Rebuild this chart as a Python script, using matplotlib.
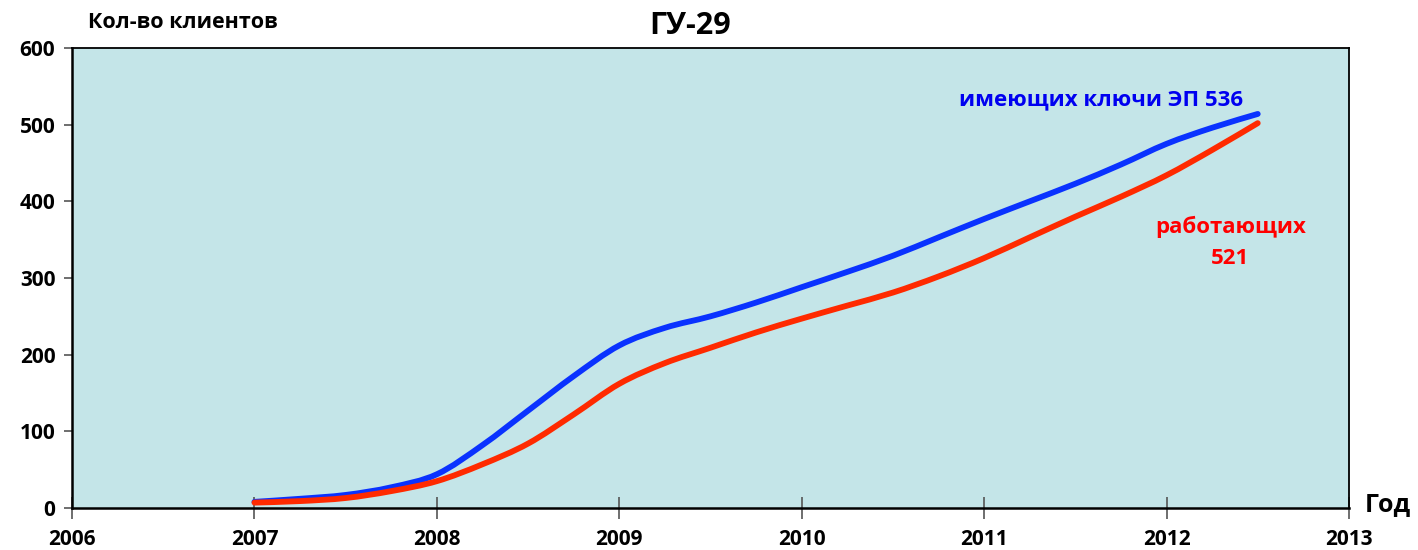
import matplotlib
matplotlib.use("Agg")
import matplotlib.pyplot as plt
from matplotlib.path import Path
from matplotlib.patches import PathPatch

# Data
years = [2007, 2007.25, 2007.5, 2007.75, 2008, 2008.25, 2008.5, 2008.75,
         2009, 2009.25, 2009.5, 2009.75, 2010, 2010.25, 2010.5, 2010.75,
         2011, 2011.25, 2011.5, 2011.75, 2012, 2012.25, 2012.5]
with_keys = [8, 12, 17, 27, 44, 82, 127, 172,
             212, 235, 250, 268, 288, 308, 329, 353,
             377, 400, 423, 448, 475, 496, 514]
working = [7, 9, 13, 22, 35, 57, 84, 122,
           162, 189, 209, 229, 247, 264, 281, 302,
           326, 353, 380, 406, 434, 467, 502]
x_ticks = [2006, 2007, 2008, 2009, 2010, 2011, 2012, 2013]
y_ticks = [0, 100, 200, 300, 400, 500, 600]

plt.rcParams['font.family'] = ['Open Sans', 'DejaVu Sans']
plt.rcParams['font.weight'] = 'bold'


def smooth_path(xs, ys):
    """Excel-style smoothed line: Catmull-Rom segments as cubic Beziers."""
    verts = [(xs[0], ys[0])]
    codes = [Path.MOVETO]
    n = len(xs)
    for i in range(n - 1):
        x0, y0 = (xs[i - 1], ys[i - 1]) if i > 0 else (xs[i], ys[i])
        x1, y1 = xs[i], ys[i]
        x2, y2 = xs[i + 1], ys[i + 1]
        x3, y3 = (xs[i + 2], ys[i + 2]) if i + 2 < n else (xs[i + 1], ys[i + 1])
        c1 = (x1 + (x2 - x0) / 6.0, y1 + (y2 - y0) / 6.0)
        c2 = (x2 - (x3 - x1) / 6.0, y2 - (y3 - y1) / 6.0)
        verts += [c1, c2, (x2, y2)]
        codes += [Path.CURVE4] * 3
    return Path(verts, codes)


fig = plt.figure(figsize=(14.18, 5.5), dpi=100)
ax = fig.add_axes([0.0508, 0.0764, 0.9005, 0.8363])
ax.set_facecolor('#C4E5E8')

for ys, col, z in [(with_keys, '#0A32FF', 3), (working, '#FF2A00', 4)]:
    patch = PathPatch(smooth_path(years, ys), facecolor='none', edgecolor=col,
                      lw=4.2, capstyle='round', joinstyle='round', zorder=z)
    ax.add_patch(patch)

ax.set_xlim(2006, 2013)
ax.set_ylim(0, 600)
ax.set_xticks(x_ticks)
ax.set_yticks(y_ticks)
ax.set_xticklabels([str(v) for v in x_ticks], fontsize=15, fontweight='bold')
ax.set_yticklabels([str(v) for v in y_ticks], fontsize=15, fontweight='bold')
ax.tick_params(axis='x', direction='inout', length=16, width=1.2, color='#555555', pad=7)
ax.tick_params(axis='y', direction='out', length=6, width=1.2, color='#555555', pad=6)

for s in ['left', 'bottom']:
    ax.spines[s].set_linewidth(1.8)
for s in ['top', 'right']:
    ax.spines[s].set_linewidth(1.3)

fig.text(88/1418, 1 - 22/550, 'Кол-во клиентов', fontsize=15.5, fontweight='bold',
         ha='left', va='center')
fig.text(690/1418, 1 - 26/550, 'ГУ-29', fontsize=22, fontweight='bold',
         ha='center', va='center')
fig.text(1388/1418, 1 - 505/550, 'Год', fontsize=18, fontweight='bold',
         ha='center', va='center')

ax.text(2011.64, 533, 'имеющих ключи ЭП 536', color='#0000F0', fontsize=16,
        fontweight='bold', ha='center', va='center')
ax.text(2012.35, 367, 'работающих', color='#FF0000', fontsize=16,
        fontweight='bold', ha='center', va='center')
ax.text(2012.35, 325, '521', color='#FF0000', fontsize=16,
        fontweight='bold', ha='center', va='center')

fig.savefig('out.png', dpi=100)
